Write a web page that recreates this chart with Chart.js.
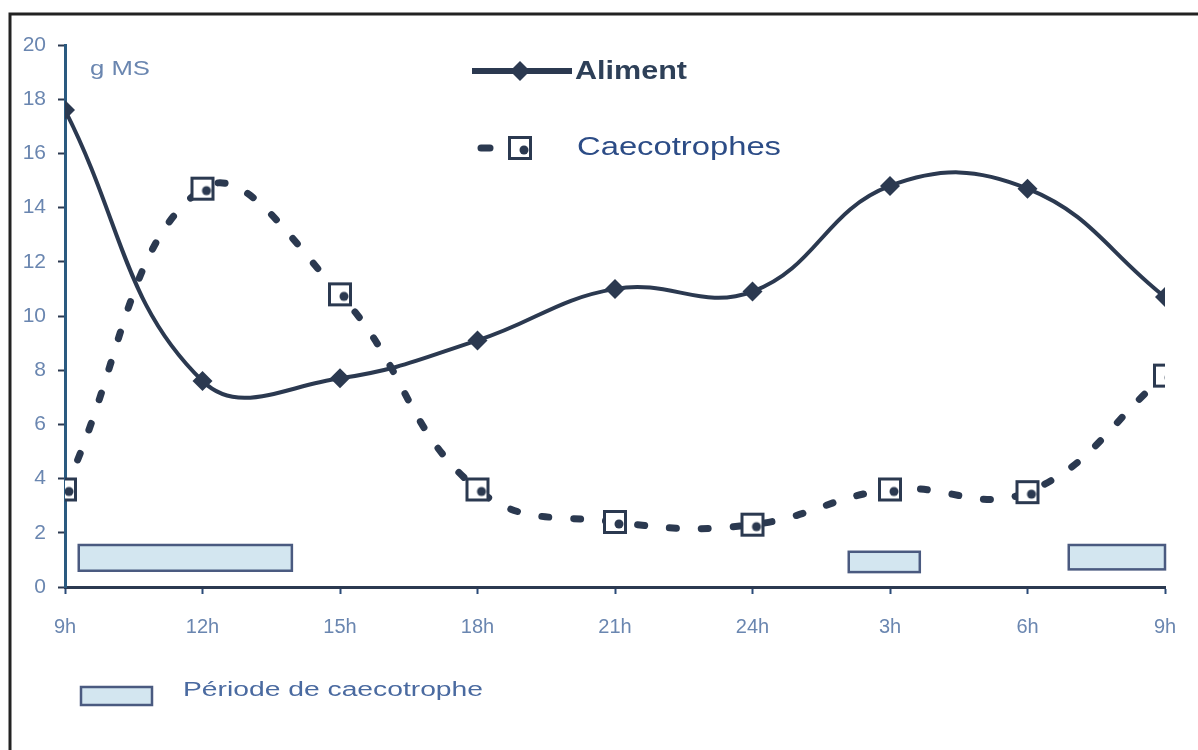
<!DOCTYPE html>
<html>
<head>
<meta charset="utf-8">
<script src="https://cdn.jsdelivr.net/npm/chart.js@4"></script>
<style>
  html, body { margin:0; padding:0; background:#fff; }
  #wrap { position:relative; width:1198px; height:750px; }
</style>
</head>
<body>
<div id="wrap"><canvas id="chart" width="1198" height="750"></canvas></div>
<script>
// hours since 0h of the first day, shown as clock labels
var hours = [9, 12, 15, 18, 21, 24, 27, 30, 33];
var hourLabels = ['9h', '12h', '15h', '18h', '21h', '24h', '3h', '6h', '9h'];
var aliment = [17.6, 7.6, 7.7, 9.1, 11.0, 10.9, 14.8, 14.7, 10.7];
var caecotrophes = [3.6, 14.7, 10.8, 3.6, 2.4, 2.3, 3.6, 3.5, 7.8];
// caecotrophy periods (hours) drawn as boxes low..high on the y scale
var periodStart = [9.3, 26.1, 30.9];
var periodEnd = [13.95, 27.65, 33];
var periodLow = [0.6, 0.55, 0.65];
var periodHigh = [1.55, 1.3, 1.55];

var ink = '#2b3950';
var tickInk = '#6a86b0';

// open square marker with a dot, like the scanned one
function squareMarker() {
  var c = document.createElement('canvas');
  c.width = 26; c.height = 26;
  var x = c.getContext('2d');
  x.fillStyle = '#fff';
  x.fillRect(2, 2, 22, 22);
  x.strokeStyle = ink;
  x.lineWidth = 3;
  x.strokeRect(2.5, 2.5, 21, 21);
  x.fillStyle = ink;
  x.beginPath();
  x.arc(17, 15, 4.5, 0, Math.PI * 2);
  x.fill();
  return c;
}
var sqImg = squareMarker();

function fitText(ctx, text, x, y, font, color, width) {
  ctx.save();
  ctx.font = font;
  ctx.fillStyle = color;
  ctx.textBaseline = 'middle';
  var w = ctx.measureText(text).width;
  ctx.translate(x, y);
  ctx.scale(width / w, 1);
  ctx.fillText(text, 0, 0);
  ctx.restore();
}

var decor = {
  id: 'decor',
  beforeDatasetsDraw: function(chart) {
    var ctx = chart.ctx, xs = chart.scales.x, ys = chart.scales.y;
    ctx.save();
    for (var i = 0; i < periodStart.length; i++) {
      var x0 = xs.getPixelForValue(periodStart[i]);
      var x1 = xs.getPixelForValue(periodEnd[i]);
      var y0 = ys.getPixelForValue(periodHigh[i]);
      var y1 = ys.getPixelForValue(periodLow[i]);
      ctx.fillStyle = '#d3e6f0';
      ctx.fillRect(x0, y0, x1 - x0, y1 - y0);
      ctx.strokeStyle = '#4a5a80';
      ctx.lineWidth = 2.5;
      ctx.strokeRect(x0, y0, x1 - x0, y1 - y0);
    }
    ctx.restore();
  },
  afterDraw: function(chart) {
    var ctx = chart.ctx;
    ctx.save();
    // frame of the scan
    ctx.strokeStyle = '#222';
    ctx.lineWidth = 3;
    ctx.beginPath();
    ctx.moveTo(10, 750);
    ctx.lineTo(10, 14);
    ctx.lineTo(1198, 14);
    ctx.stroke();

    fitText(ctx, 'g MS', 90, 69, '20px "Liberation Sans"', tickInk, 60);

    // legend: Aliment
    ctx.strokeStyle = ink;
    ctx.lineWidth = 6;
    ctx.beginPath();
    ctx.moveTo(472, 71);
    ctx.lineTo(572, 71);
    ctx.stroke();
    ctx.fillStyle = ink;
    ctx.beginPath();
    ctx.moveTo(520, 61); ctx.lineTo(530, 71); ctx.lineTo(520, 81); ctx.lineTo(510, 71);
    ctx.closePath();
    ctx.fill();
    fitText(ctx, 'Aliment', 575, 72, 'bold 25px "Liberation Sans"', '#2e4058', 112);

    // legend: Caecotrophes
    ctx.lineCap = 'round';
    ctx.lineWidth = 7;
    ctx.beginPath();
    ctx.moveTo(481, 148);
    ctx.lineTo(490, 148);
    ctx.stroke();
    ctx.drawImage(sqImg, 507, 135);
    fitText(ctx, 'Caecotrophes', 577, 148, '26px "Liberation Sans"', '#2c4c86', 204);

    // bottom legend
    ctx.fillStyle = '#d3e6f0';
    ctx.fillRect(81, 687, 71, 18);
    ctx.strokeStyle = '#4a5a80';
    ctx.lineWidth = 2.5;
    ctx.strokeRect(81, 687, 71, 18);
    fitText(ctx, 'Période de caecotrophe', 183, 690, '20px "Liberation Sans"', '#4a6aa0', 300);
    ctx.restore();
  }
};

new Chart(document.getElementById('chart').getContext('2d'), {
  type: 'line',
  data: {
    datasets: [{
      label: 'Aliment',
      data: hours.map(function(h, i) { return {x: h, y: aliment[i]}; }),
      borderColor: ink,
      backgroundColor: ink,
      borderWidth: 4,
      tension: 0.42,
      pointStyle: 'rectRot',
      pointRadius: 10,
      pointBorderWidth: 0,
    }, {
      label: 'Caecotrophes',
      data: hours.map(function(h, i) { return {x: h, y: caecotrophes[i]}; }),
      borderColor: ink,
      backgroundColor: '#fff',
      borderWidth: 7,
      borderDash: [7, 25],
      borderCapStyle: 'round',
      tension: 0.42,
      pointStyle: sqImg,
    }]
  },
  options: {
    responsive: false,
    animation: false,
    layout: { padding: { left: 0, top: 45, right: 33, bottom: 0 } },
    plugins: {
      legend: { display: false },
      tooltip: { enabled: false }
    },
    scales: {
      x: {
        type: 'linear',
        min: 9, max: 33,
        afterBuildTicks: function(axis) {
          axis.ticks = hours.map(function(h) { return {value: h}; });
        },
        afterFit: function(axis) { axis.height = 163; },
        grid: { drawOnChartArea: false, tickLength: 7, tickColor: '#2a4a78', tickWidth: 2 },
        border: { color: ink, width: 3 },
        ticks: {
          padding: 21,
          color: tickInk,
          font: { family: 'Liberation Sans', size: 20 },
          maxRotation: 0,
          callback: function(v) {
            var i = hours.indexOf(v);
            return i < 0 ? '' : hourLabels[i];
          }
        }
      },
      y: {
        min: 0, max: 20,
        afterFit: function(axis) { axis.width = 65; },
        grid: { drawOnChartArea: false, tickLength: 7, tickColor: ink, tickWidth: 2 },
        border: { color: '#2a5a80', width: 3 },
        ticks: {
          stepSize: 2,
          padding: 12,
          color: tickInk,
          font: { family: 'Liberation Sans', size: 21 }
        }
      }
    }
  },
  plugins: [decor]
});
</script>
</body>
</html>
